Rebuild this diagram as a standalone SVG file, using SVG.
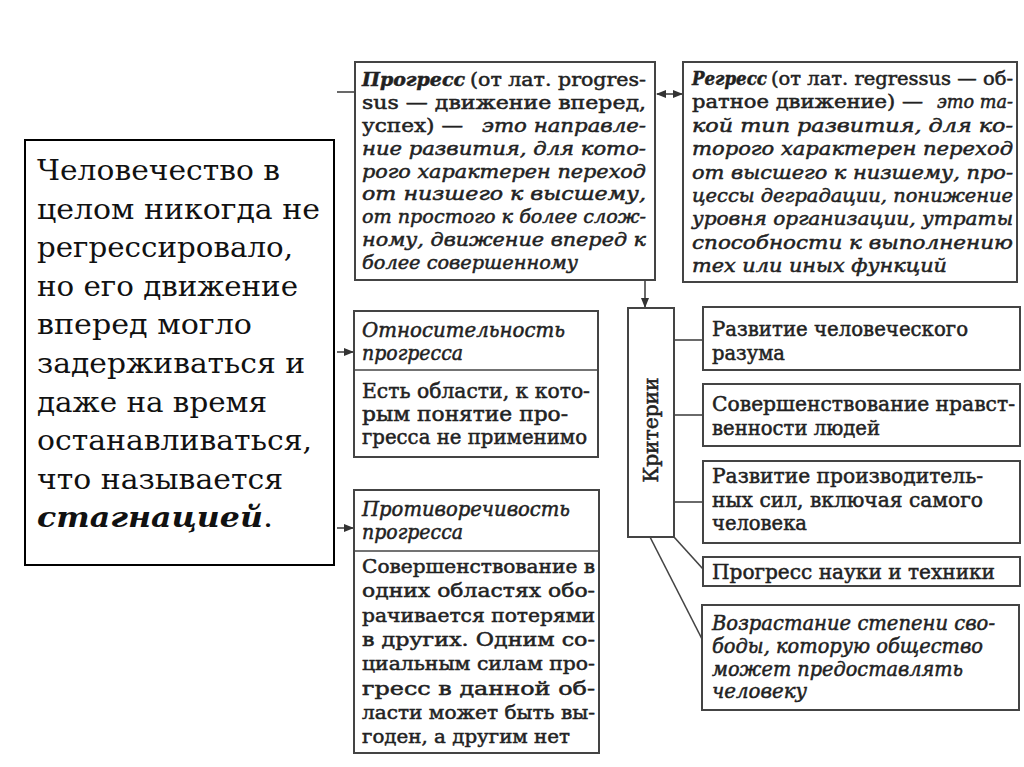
<svg xmlns="http://www.w3.org/2000/svg" width="1024" height="767" viewBox="0 0 1024 767">
<style>
.t{font-family:"DejaVu Serif","Liberation Serif",serif;font-size:18.5px;fill:#222;stroke:#222;stroke-width:0.5px}
.r{font-size:20px}
.i{font-style:italic}
.b{font-weight:bold}
.big{font-family:"DejaVu Serif","Liberation Serif",serif;font-size:27px;fill:#111}
.box{fill:#fff;stroke:#444;stroke-width:2}
.ln{stroke:#444;stroke-width:1.6;fill:none}
</style>
<defs>
<marker id="ah" markerUnits="userSpaceOnUse" markerWidth="10" markerHeight="8" refX="9" refY="4" orient="auto-start-reverse">
<path d="M0,0 L10,4 L0,8 z" fill="#333"/>
</marker>
</defs>
<rect width="1024" height="767" fill="#fff"/>

<g id="connectors">
<line class="ln" x1="337" y1="92" x2="355" y2="92"/>
<line class="ln" x1="337" y1="352" x2="353" y2="352" marker-end="url(#ah)"/>
<line class="ln" x1="337" y1="528" x2="353" y2="528" marker-end="url(#ah)"/>
<line class="ln" x1="657" y1="94" x2="682" y2="94" marker-start="url(#ah)" marker-end="url(#ah)"/>
<line class="ln" x1="645" y1="281" x2="645" y2="307" marker-end="url(#ah)"/>
<line class="ln" x1="674" y1="340" x2="703" y2="340"/>
<line class="ln" x1="674" y1="415" x2="703" y2="415"/>
<line class="ln" x1="674" y1="502" x2="703" y2="502"/>
<line class="ln" x1="674" y1="537" x2="703" y2="569"/>
<line class="ln" x1="650" y1="537" x2="702" y2="639"/>
</g>

<g id="progress">
<rect class="box" x="355" y="62" width="300" height="218"/>
<text class="t b i" x="362" y="86" textLength="103" lengthAdjust="spacingAndGlyphs">Прогресс</text>
<text class="t" x="470" y="86" textLength="176" lengthAdjust="spacingAndGlyphs">(от лат. progres-</text>
<text class="t" x="362" y="109" textLength="284" lengthAdjust="spacingAndGlyphs">sus — движение вперед,</text>
<text class="t" x="362" y="132" textLength="101" lengthAdjust="spacingAndGlyphs">успех) —</text>
<text class="t i" x="482" y="132" textLength="164" lengthAdjust="spacingAndGlyphs">это направле-</text>
<text class="t i" x="362" y="155" textLength="284" lengthAdjust="spacingAndGlyphs">ние развития, для кото-</text>
<text class="t i" x="362" y="178" textLength="284" lengthAdjust="spacingAndGlyphs">рого характерен переход</text>
<text class="t i" x="362" y="200" textLength="284" lengthAdjust="spacingAndGlyphs">от низшего к высшему,</text>
<text class="t i" x="362" y="223" textLength="284" lengthAdjust="spacingAndGlyphs">от простого к более слож-</text>
<text class="t i" x="362" y="246" textLength="284" lengthAdjust="spacingAndGlyphs">ному, движение вперед к</text>
<text class="t i" x="362" y="269" textLength="216" lengthAdjust="spacingAndGlyphs">более совершенному</text>
</g>

<g id="regress">
<rect class="box" x="683" y="62" width="334" height="220"/>
<text class="t b i" x="692" y="85" textLength="75" lengthAdjust="spacingAndGlyphs">Регресс</text>
<text class="t" x="771" y="85" textLength="242" lengthAdjust="spacingAndGlyphs">(от лат. regressus — об-</text>
<text class="t" x="692" y="108" textLength="231" lengthAdjust="spacingAndGlyphs">ратное движение) —</text>
<text class="t i" x="937" y="108" textLength="76" lengthAdjust="spacingAndGlyphs">это та-</text>
<text class="t i" x="692" y="132" textLength="321" lengthAdjust="spacingAndGlyphs">кой тип развития, для ко-</text>
<text class="t i" x="692" y="155" textLength="321" lengthAdjust="spacingAndGlyphs">торого характерен переход</text>
<text class="t i" x="692" y="179" textLength="321" lengthAdjust="spacingAndGlyphs">от высшего к низшему, про-</text>
<text class="t i" x="692" y="202" textLength="321" lengthAdjust="spacingAndGlyphs">цессы деградации, понижение</text>
<text class="t i" x="692" y="225" textLength="321" lengthAdjust="spacingAndGlyphs">уровня организации, утраты</text>
<text class="t i" x="692" y="249" textLength="321" lengthAdjust="spacingAndGlyphs">способности к выполнению</text>
<text class="t i" x="692" y="272" textLength="255" lengthAdjust="spacingAndGlyphs">тех или иных функций</text>
</g>

<g id="relativity">
<rect class="box" x="354" y="311" width="244" height="146"/>
<line class="ln" x1="354" y1="370" x2="598" y2="370"/>
<text class="t i r" x="362" y="337" textLength="203" lengthAdjust="spacingAndGlyphs">Относительность</text>
<text class="t i r" x="362" y="360" textLength="101" lengthAdjust="spacingAndGlyphs">прогресса</text>
<text class="t r" x="362" y="398" textLength="228" lengthAdjust="spacingAndGlyphs">Есть области, к кото-</text>
<text class="t r" x="362" y="421" textLength="206" lengthAdjust="spacingAndGlyphs">рым понятие про-</text>
<text class="t r" x="362" y="444" textLength="225" lengthAdjust="spacingAndGlyphs">гресса не применимо</text>
</g>

<g id="contradiction">
<rect class="box" x="354" y="490" width="245" height="263"/>
<line class="ln" x1="354" y1="551" x2="599" y2="551"/>
<text class="t i r" x="362" y="516" textLength="208" lengthAdjust="spacingAndGlyphs">Противоречивость</text>
<text class="t i r" x="362" y="539" textLength="101" lengthAdjust="spacingAndGlyphs">прогресса</text>
<text class="t" x="362" y="573" textLength="233" lengthAdjust="spacingAndGlyphs">Совершенствование в</text>
<text class="t" x="362" y="597" textLength="233" lengthAdjust="spacingAndGlyphs">одних областях обо-</text>
<text class="t" x="362" y="622" textLength="233" lengthAdjust="spacingAndGlyphs">рачивается потерями</text>
<text class="t" x="362" y="646" textLength="233" lengthAdjust="spacingAndGlyphs">в других. Одним со-</text>
<text class="t" x="362" y="670" textLength="233" lengthAdjust="spacingAndGlyphs">циальным силам про-</text>
<text class="t" x="362" y="695" textLength="233" lengthAdjust="spacingAndGlyphs">гресс в данной об-</text>
<text class="t" x="362" y="719" textLength="233" lengthAdjust="spacingAndGlyphs">ласти может быть вы-</text>
<text class="t" x="362" y="743" textLength="208" lengthAdjust="spacingAndGlyphs">годен, а другим нет</text>
</g>

<g id="criteria">
<rect class="box" x="628" y="308" width="46" height="229"/>
<text class="t r" transform="translate(658,430) rotate(-90)" text-anchor="middle" textLength="105" lengthAdjust="spacingAndGlyphs">Критерии</text>
</g>

<g id="c1">
<rect class="box" x="703" y="307" width="317" height="63"/>
<text class="t r" x="712" y="336" textLength="256" lengthAdjust="spacingAndGlyphs">Развитие человеческого</text>
<text class="t r" x="712" y="360" textLength="73" lengthAdjust="spacingAndGlyphs">разума</text>
</g>
<g id="c2">
<rect class="box" x="703" y="384" width="317" height="62"/>
<text class="t r" x="712" y="411" textLength="303" lengthAdjust="spacingAndGlyphs">Совершенствование нравст-</text>
<text class="t r" x="712" y="435" textLength="168" lengthAdjust="spacingAndGlyphs">венности людей</text>
</g>
<g id="c3">
<rect class="box" x="703" y="461" width="317" height="82"/>
<text class="t r" x="712" y="483" textLength="271" lengthAdjust="spacingAndGlyphs">Развитие производитель-</text>
<text class="t r" x="712" y="507" textLength="271" lengthAdjust="spacingAndGlyphs">ных сил, включая самого</text>
<text class="t r" x="712" y="530" textLength="95" lengthAdjust="spacingAndGlyphs">человека</text>
</g>
<g id="c4">
<rect class="box" x="703" y="557" width="317" height="29"/>
<text class="t r" x="712" y="579" textLength="283" lengthAdjust="spacingAndGlyphs">Прогресс науки и техники</text>
</g>
<g id="c5">
<rect class="box" x="702" y="605" width="317" height="105"/>
<text class="t i r" x="712" y="630" textLength="283" lengthAdjust="spacingAndGlyphs">Возрастание степени сво-</text>
<text class="t i r" x="712" y="653" textLength="271" lengthAdjust="spacingAndGlyphs">боды, которую общество</text>
<text class="t i r" x="712" y="676" textLength="251" lengthAdjust="spacingAndGlyphs">может предоставлять</text>
<text class="t i r" x="712" y="698" textLength="95" lengthAdjust="spacingAndGlyphs">человеку</text>
</g>

<g id="note">
<rect x="25" y="140" width="309" height="425" fill="#fff" stroke="#000" stroke-width="2"/>
<text class="big" x="37" y="180" textLength="243" lengthAdjust="spacingAndGlyphs">Человечество в</text>
<text class="big" x="37" y="219" textLength="283" lengthAdjust="spacingAndGlyphs">целом никогда не</text>
<text class="big" x="37" y="257" textLength="256" lengthAdjust="spacingAndGlyphs">регрессировало,</text>
<text class="big" x="37" y="296" textLength="261" lengthAdjust="spacingAndGlyphs">но его движение</text>
<text class="big" x="37" y="334" textLength="215" lengthAdjust="spacingAndGlyphs">вперед могло</text>
<text class="big" x="37" y="373" textLength="268" lengthAdjust="spacingAndGlyphs">задерживаться и</text>
<text class="big" x="37" y="412" textLength="230" lengthAdjust="spacingAndGlyphs">даже на время</text>
<text class="big" x="37" y="450" textLength="275" lengthAdjust="spacingAndGlyphs">останавливаться,</text>
<text class="big" x="37" y="489" textLength="246" lengthAdjust="spacingAndGlyphs">что называется</text>
<text class="big" x="37" y="527" textLength="236" lengthAdjust="spacingAndGlyphs"><tspan font-weight="bold" font-style="italic">стагнацией</tspan>.</text>
</g>
</svg>
